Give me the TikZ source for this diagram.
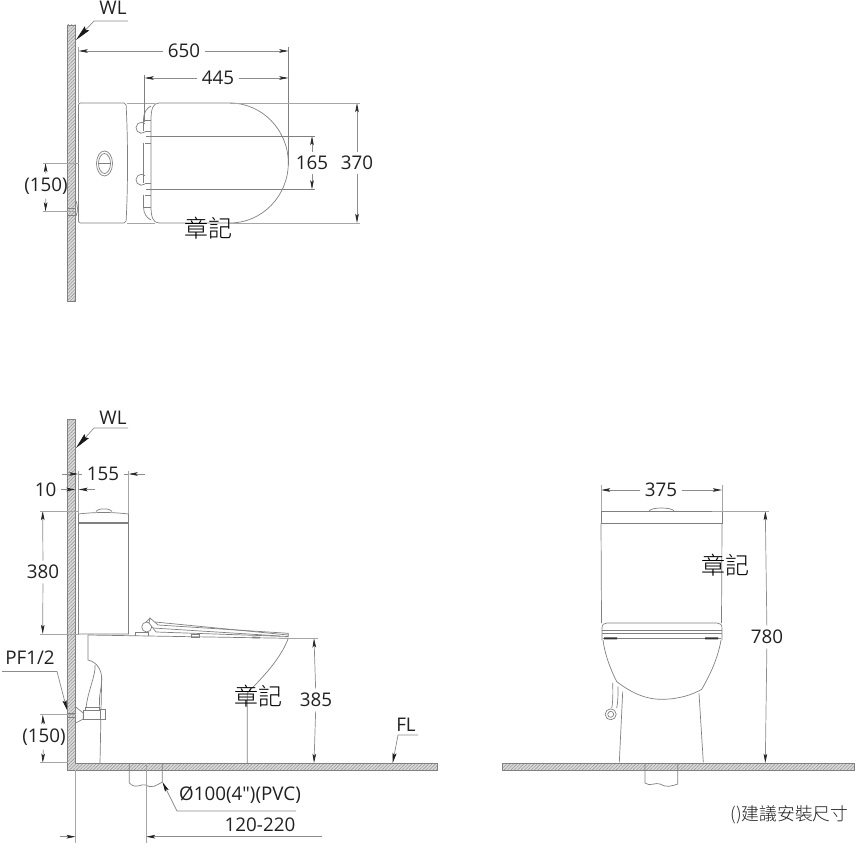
\documentclass[tikz,border=0pt]{standalone}
\usepackage{fontspec}
\setmainfont{Open Sans}
\newfontfamily\plainsans{Open Sans}
\newfontfamily\cjk{Noto Sans CJK TC Light}
\usetikzlibrary{arrows.meta,patterns.meta}
\definecolor{partgray}{gray}{0.5}
\definecolor{dimgray}{gray}{0.55}
\definecolor{labelgray}{gray}{0.13}
\tikzset{part line/.style={draw=partgray,line width=0.35pt},
         soft line/.style={draw=black!35,line width=0.35pt},
         dim line/.style={draw=dimgray,line width=0.35pt,>={Stealth[length=4.6pt,width=1.8pt,inset=1pt,color=black!85]}},
         leader/.style={draw=dimgray,line width=0.35pt,-{Stealth[length=8pt,width=3pt,inset=1pt,color=black!90]}},
         short leader/.style={draw=dimgray,line width=0.35pt,-{Stealth[length=5pt,width=2pt,inset=1pt,color=black!90]}},
         dim label/.style={text=labelgray,font=\fontsize{9.4}{10}\selectfont,inner sep=2pt},
         stamp label/.style={text=black,font=\cjk\fontsize{12}{13}\selectfont,inner sep=0pt},
         wall hatch/.style={draw=partgray,line width=0.4pt,preaction={fill=black!14},
             pattern={Lines[angle=45,distance=1.2pt,line width=0.3pt]},pattern color=black!40},
}
\begin{document}
\begin{tikzpicture}[x=0.5pt,y=-0.5pt]
\useasboundingbox (0,0) rectangle (860,860);
% top view
\path[wall hatch] (67.5,25) rectangle (75.5,301);
\draw[part line,rounded corners=1pt] (78.5,103) -- (126,103) .. controls (128,140) and (128,186) .. (126,223) -- (78.5,223) -- cycle;
\draw[soft line] (127,103) -- (155,103) (127,223) -- (155,223);
\draw[part line] (151,120) .. controls (151,109) and (153,103) .. (159,103) -- (230,103)
    .. controls (262,103) and (288.3,130) .. (288.3,163)
    .. controls (288.3,196) and (262,223) .. (230,223) -- (159,223)
    .. controls (153,223) and (151,217) .. (151,206) -- cycle;
\draw[part line] (143.5,120) -- (151,120) (143.5,207) -- (151,207);
\draw[part line] (143.5,120) .. controls (143.5,112) and (147,108) .. (151,106);
\draw[part line] (143.5,207) .. controls (143.5,214) and (147,218) .. (151,220);
\draw[part line] (143.5,120) -- (143.5,131) (143.5,143) -- (143.5,183) (143.5,195) -- (143.5,207);
\draw[part line] (145,132) arc (50:310:5.5);
\draw[part line] (145,184) arc (50:310:5.5);
\draw[part line] (145,131) -- (151,131) (145,143) -- (151,143) (145,183) -- (151,183) (145,195) -- (151,195);
\draw[part line] (104.5,163.5) ellipse (8 and 12.5) ellipse (6 and 10);
\draw[part line] (98.5,163.5) -- (110.5,163.5);
\draw[part line] (75.5,200) .. controls (78,204) and (78,212) .. (76,216);
\draw[part line] (67.5,208) -- (75.5,208) (67.5,215) -- (75.5,215);
% top view dimensions
\node[dim label] (wl top) at (113,8) {WL};
\coordinate (wl top a) at (128,21);
\coordinate (wl top b) at (94,21);
\coordinate (wl top c) at (76,40);
\draw[leader] (wl top a) -- (wl top b) -- (wl top c);
\node[dim label] (d650) at (184,51) {650};
\coordinate (d650 l) at (78.5,51);
\coordinate (d650 r) at (288.5,51);
\draw[dim line,->] (d650) -- (d650 l);
\draw[dim line,->] (d650) -- (d650 r);
\draw[soft line] (78.5,47) -- (78.5,103);
\draw[part line] (288.5,47) -- (288.5,165);
\node[dim label] (d445) at (218,78) {445};
\coordinate (d445 l) at (144.5,78);
\coordinate (d445 r) at (288.5,78);
\draw[dim line,->] (d445) -- (d445 l);
\draw[dim line,->] (d445) -- (d445 r);
\draw[part line] (144.5,75) -- (144.5,122);
\node[dim label] (d165) at (312,163) {165};
\coordinate (d165 t) at (312,136);
\coordinate (d165 b) at (312,189.5);
\draw[dim line,->] (d165) -- (d165 t);
\draw[dim line,->] (d165) -- (d165 b);
\draw[part line] (146,136) -- (315,136) (146,189.5) -- (315,189.5);
\node[dim label] (d370) at (357,163) {370};
\coordinate (d370 t) at (357,103);
\coordinate (d370 b) at (357,223);
\draw[dim line,->] (d370) -- (d370 t);
\draw[dim line,->] (d370) -- (d370 b);
\draw[soft line] (230,103) -- (360,103) (230,223) -- (360,223);
\node[dim label] (d150 top) at (46,186) {(150)};
\coordinate (d150 top t) at (45.5,163);
\coordinate (d150 top b) at (45.5,211.5);
\draw[dim line,->] (d150 top) -- (d150 top t);
\draw[dim line,->] (d150 top) -- (d150 top b);
\draw[soft line] (43,163) -- (78.5,163) (43,211.5) -- (75,211.5);
\node[stamp label] (stamp top) at (208,228) {章記};
% side view
\path[wall hatch] (67.5,419.5) -- (75.5,419.5) -- (75.5,763) -- (437,763) -- (437,770.3) -- (67.5,770.3) -- cycle;
\draw[part line] (78.5,514) .. controls (95,512) and (112,512) .. (128.5,514) -- (128.5,634) -- (78.5,634) -- cycle;
\draw[part line] (96,511.5) .. controls (98,508) and (110,508) .. (112,511.5);
\draw[part line,line width=0.7pt] (78.5,523) -- (128.5,523);
\draw[part line] (88,635) -- (88,660) .. controls (97,662) and (102,670) .. (101.7,680)
    .. controls (101.5,690) and (98,697) .. (100,708);
\draw[part line] (95,665) .. controls (96,675) and (88,690) .. (86,708);
\draw[part line] (101.7,677) -- (100,763);
\draw[part line] (75.7,707) -- (83.3,713) -- (83.3,719) -- (75.7,723);
\draw[part line,fill=white] (83.3,710) rectangle (100.7,719.5);
\draw[part line,fill=white] (100.7,709) rectangle (105.3,719.5);
\draw[part line,fill=white] (85,707) rectangle (99.3,710);
\draw[part line] (68,713.5) -- (75.7,713.5) (68,717.5) -- (75.7,717.5);
% seat and bowl
\draw[part line] (88,635) -- (288.3,638.3);
\draw[part line] (135.7,636) -- (135.7,632.3) -- (148.3,632.3) -- (148.3,636);
\filldraw[part line,fill=white] (146.7,627) circle (5);
\draw[part line,fill=white] (150,618) -- (158,625) -- (288.3,633.3) -- (288.3,636.5) -- (156,632) -- (149,623) -- cycle;
\draw[part line] (146,622) -- (150,618) (155,622) -- (288.3,635) (153,628) -- (280,636);
\draw[part line] (191,634.6) rectangle (199,637);
\draw[part line,line width=0.8pt] (252,637.4) -- (260,637.7);
\draw[part line] (288.3,638.3) .. controls (280,660) and (262,678) .. (247.3,693) -- (247.3,763);
\draw[part line] (129.3,763) -- (129.3,783) .. controls (136,790) and (142,783) .. (146,785)
    .. controls (152,789) and (157,785) .. (162.3,782) -- (162.3,763);
\node[stamp label] (stamp side) at (258,696) {章記};
% side view dimensions
\node[dim label] (wl side) at (113,418) {WL};
\coordinate (wl side a) at (128,428);
\coordinate (wl side b) at (94,428);
\coordinate (wl side c) at (76,448);
\draw[leader] (wl side a) -- (wl side b) -- (wl side c);
\node[dim label] (d155) at (103,474) {155};
\coordinate (d155 l) at (78.5,474);
\coordinate (d155 m) at (62,474);
\coordinate (d155 r) at (128.5,474);
\coordinate (d155 e) at (145,474);
\draw[dim line,->] (d155 m) -- (d155 l);
\draw[dim line] (d155 l) -- (d155);
\draw[dim line] (d155) -- (d155 r);
\draw[dim line,->] (d155 e) -- (d155 r);
\draw[soft line] (78.5,471) -- (78.5,514) (128.5,471) -- (128.5,514);
\node[dim label] (d10) at (45.5,489.5) {10};
\coordinate (d10 l) at (75.5,489.5);
\coordinate (d10 r) at (78.5,489.5);
\coordinate (d10 e) at (95,489.5);
\draw[dim line,->] (d10) -- (d10 l);
\draw[dim line,->] (d10 e) -- (d10 r);
\node[dim label] (d380) at (43,572) {380};
\coordinate (d380 t) at (42.7,511);
\coordinate (d380 b) at (42.7,634);
\draw[dim line,->] (d380) -- (d380 t);
\draw[dim line,->] (d380) -- (d380 b);
\draw[soft line] (40,511) -- (78.5,511) (40,634) -- (78.5,634);
\node[dim label] (pf) at (30,658) {PF1/2};
\coordinate (pf a) at (2,671.5);
\coordinate (pf b) at (57,671.5);
\coordinate (pf c) at (67,710);
\draw[short leader] (pf a) -- (pf b) -- (pf c);
\node[dim label] (d150 side) at (44,737) {(150)};
\coordinate (d150 side t) at (42.7,714.7);
\coordinate (d150 side b) at (42.7,762.7);
\draw[dim line,->] (d150 side) -- (d150 side t);
\draw[dim line,->] (d150 side) -- (d150 side b);
\draw[soft line] (40,714.7) -- (75.5,714.7) (40,762.7) -- (67.5,762.7);
\node[dim label] (d385) at (316,700) {385};
\coordinate (d385 t) at (314,638.3);
\coordinate (d385 b) at (314,763);
\draw[dim line,->] (d385) -- (d385 t);
\draw[dim line,->] (d385) -- (d385 b);
\draw[soft line] (288,638.3) -- (318,638.3);
\node[dim label] (fl side) at (406,725) {FL};
\coordinate (fl a) at (418,735);
\coordinate (fl b) at (398,735);
\coordinate (fl c) at (392.7,763);
\draw[short leader] (fl a) -- (fl b) -- (fl c);
\node[dim label,font=\plainsans\fontsize{9.4}{10}\selectfont] (dia) at (240,795) {Ø100(4")(PVC)};
\coordinate (dia a) at (296,811);
\coordinate (dia b) at (177,811);
\coordinate (dia c) at (162.5,782);
\draw[short leader] (dia a) -- (dia b) -- (dia c);
\node[dim label] (d120) at (260,825) {120-220};
\coordinate (d120 m) at (60,836.7);
\coordinate (d120 l) at (75.7,836.7);
\coordinate (d120 r) at (146,836.7);
\coordinate (d120 e) at (322,836.7);
\draw[dim line,->] (d120 m) -- (d120 l);
\draw[dim line,->] (d120 e) -- (d120 r);
\draw[soft line] (75.7,770.3) -- (75.7,843) (146,763) -- (146,843);
% front view
\path[wall hatch] (502,763) rectangle (854.7,770.5);
\draw[part line] (601,511) rectangle (722,523.3);
\draw[part line] (649,511) .. controls (651,507) and (672,507) .. (674,511);
\draw[part line] (601,523.3) -- (601.5,623) (722,523.3) -- (721.5,623);
\draw[part line] (602,640) -- (602,628) .. controls (602,624.5) and (604,623) .. (607,623) -- (717,623)
    .. controls (720,623) and (722,624.5) .. (722,628) -- (722,640);
\draw[part line] (602,630.3) -- (722,630.3) (602,633.3) -- (722,633.3) (603,638.3) -- (721,638.3);
\fill[black!80] (604,637.3) rectangle (617,639.3) (705,637.3) rectangle (718,639.3);
\draw[part line] (603,640) .. controls (605,655) and (610,668) .. (616.7,681.7)
    .. controls (632,693) and (645,699.3) .. (661.7,699.3)
    .. controls (678,699.3) and (692,695) .. (701.7,689.3)
    .. controls (710,675) and (718,658) .. (721,640);
\draw[part line] (622.7,691.7) -- (619.3,762.3) (699,693.3) -- (703.3,762.3);
\draw[part line] (618,686.7) .. controls (618,695) and (618,702) .. (616.7,708);
\draw[part line] (612.7,683) .. controls (613,692) and (613,702) .. (611.7,708);
\draw[part line] (610.7,714.3) circle (5.5) circle (3);
\draw[part line] (645,763) -- (645,783) .. controls (650,787) and (655,782) .. (660,784)
    .. controls (666,788) and (672,786) .. (677.7,784) -- (677.7,763);
\node[stamp label] (stamp front) at (725,565) {章記};
% front view dimensions
\node[dim label] (d375) at (661,490) {375};
\coordinate (d375 l) at (601,490);
\coordinate (d375 r) at (722,490);
\draw[dim line,->] (d375) -- (d375 l);
\draw[dim line,->] (d375) -- (d375 r);
\draw[soft line] (601,485) -- (601,511) (722,485) -- (722,511);
\node[dim label] (d780) at (767,637) {780};
\coordinate (d780 t) at (765.3,511);
\coordinate (d780 b) at (765.3,763);
\draw[dim line,->] (d780) -- (d780 t);
\draw[dim line,->] (d780) -- (d780 b);
\draw[soft line] (712,511) -- (769,511);
\node[dim label,font=\cjk\fontsize{8.9}{10}\selectfont] (note) at (789.5,815) {()建議安裝尺寸};
\end{tikzpicture}
\end{document}
